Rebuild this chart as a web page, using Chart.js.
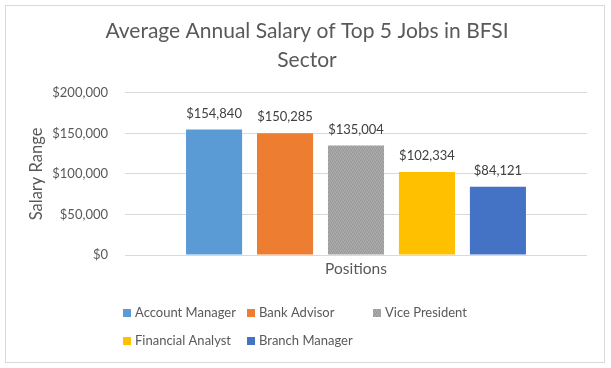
<!DOCTYPE html>
<html>
<head>
<meta charset="utf-8">
<script src="https://cdn.jsdelivr.net/npm/chart.js@4/dist/chart.umd.min.js"></script>
<style>
  html, body { margin: 0; padding: 0; background: #fff; }
  #wrap { width: 611px; height: 368px; }
</style>
</head>
<body>
<div id="wrap"><canvas id="salaryChart" width="611" height="368"></canvas></div>
<script>
const categories = ['Positions'];
const jobs = ['Account Manager', 'Bank Advisor', 'Vice President', 'Financial Analyst', 'Branch Manager'];
const salaries = [154840, 150285, 135004, 102334, 84121];
const yTicks = [0, 50000, 100000, 150000, 200000];

const FONT = 'Lato, "Open Sans", sans-serif';
const TEXT = '#595959';

// speckled grey like the Excel texture fill
function greyTexture() {
    const c = document.createElement('canvas');
    c.width = 4; c.height = 4;
    const g = c.getContext('2d');
    g.fillStyle = '#a3a3a3';
    g.fillRect(0, 0, 4, 4);
    g.fillStyle = '#989898';
    g.fillRect(0, 0, 1, 1); g.fillRect(2, 1, 1, 1); g.fillRect(1, 3, 1, 1); g.fillRect(3, 2, 1, 1);
    g.fillStyle = '#adadad';
    g.fillRect(1, 1, 1, 1); g.fillRect(3, 0, 1, 1); g.fillRect(0, 2, 1, 1); g.fillRect(2, 3, 1, 1);
    return g.createPattern(c, 'repeat');
}

const ctx = document.getElementById('salaryChart').getContext('2d');
const colors = ['#5B9BD5', '#ED7D31', greyTexture(), '#FFC000', '#4472C4'];

const money = v => '$' + v.toLocaleString('en-US');

const frameAndLabels = {
    id: 'frameAndLabels',
    beforeDraw(chart) {
        const c = chart.ctx;
        c.save();
        c.strokeStyle = '#d9d9d9';
        c.lineWidth = 1;
        c.strokeRect(5.5, 5.5, 599, 357);
        c.restore();
    },
    afterDatasetsDraw(chart) {
        const c = chart.ctx;
        c.save();
        c.font = '13px ' + FONT;
        c.fillStyle = '#404040';
        c.textAlign = 'center';
        c.textBaseline = 'middle';
        chart.data.datasets.forEach((ds, i) => {
            chart.getDatasetMeta(i).data.forEach((bar, j) => {
                c.fillText(money(ds.data[j]), bar.x, bar.y - 16);
            });
        });
        c.restore();
    },
    afterDraw(chart) {
        // Excel-style legend laid out in columns
        const c = chart.ctx;
        const colX = [123, 247, 373];
        const rowY = [313, 341];
        c.save();
        c.font = '13px ' + FONT;
        c.textBaseline = 'middle';
        chart.data.datasets.forEach((ds, i) => {
            const x = colX[i % 3], y = rowY[Math.floor(i / 3)];
            c.fillStyle = ds.backgroundColor;
            c.fillRect(x, y - 4, 8, 8);
            c.fillStyle = TEXT;
            c.fillText(ds.label, x + 12, y);
        });
        c.restore();
    }
};

new Chart(ctx, {
    type: 'bar',
    data: {
        labels: categories,
        datasets: jobs.map((job, i) => ({
            label: job,
            data: [salaries[i]],
            backgroundColor: colors[i],
            categoryPercentage: 0.768,
            barPercentage: 0.79
        }))
    },
    options: {
        responsive: false,
        animation: false,
        layout: { padding: { top: 0, left: 27, right: 24, bottom: 80 } },
        plugins: {
            legend: { display: false },
            tooltip: { enabled: false },
            title: {
                display: true,
                text: ['Average Annual Salary of Top 5 Jobs in BFSI', 'Sector'],
                color: TEXT,
                font: { family: FONT, size: 21, weight: 'normal', lineHeight: 1.38 },
                padding: { top: 17, bottom: 18 }
            }
        },
        scales: {
            x: {
                grid: { display: false, tickLength: 0 },
                border: { display: false },
                ticks: { color: TEXT, font: { family: FONT, size: 15.5 }, padding: 5 },
                afterFit(scale) { scale.height = 33; }
            },
            y: {
                min: 0,
                max: 200000,
                afterBuildTicks(scale) { scale.ticks = yTicks.map(v => ({ value: v })); },
                grid: { color: '#d9d9d9', drawTicks: false },
                border: { display: false },
                ticks: { color: TEXT, font: { family: FONT, size: 13 }, padding: 17, callback: v => money(v) },
                title: { display: true, text: 'Salary Range', color: TEXT, font: { family: FONT, size: 16.5 }, padding: { top: 0 } },
                afterFit(scale) { scale.width = 98; }
            }
        }
    },
    plugins: [frameAndLabels]
});
</script>
</body>
</html>
